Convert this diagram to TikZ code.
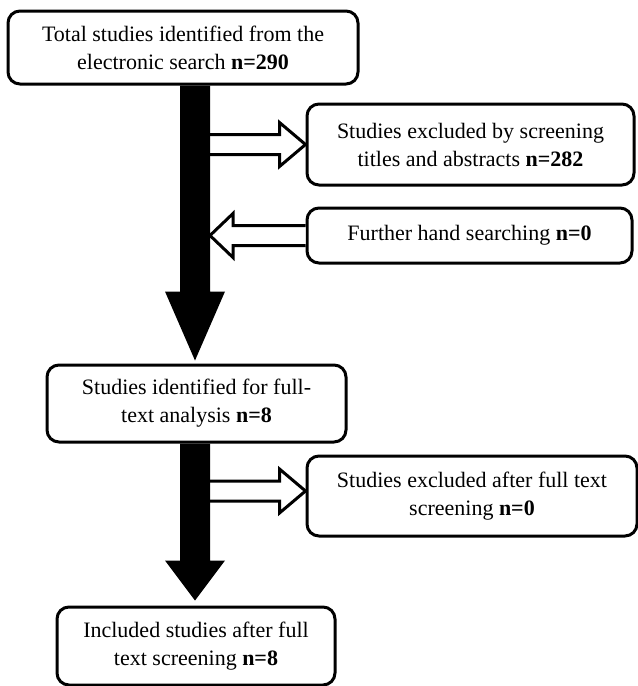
\documentclass[tikz,border=0pt]{standalone}
\usepackage{fontspec}
\setmainfont{Liberation Serif}
\usetikzlibrary{calc}
\usetikzlibrary{positioning}
\tikzset{flowbox/.style={draw, line width=2.25pt, rounded corners=9pt, align=center, inner sep=0pt, font=\fontsize{16.5}{21}\selectfont},
		hollowarrow/.style={draw, fill=white, line width=2.25pt, line join=miter}}
\newcommand{\fatarrow}[4]{\fill ($(#1.south -| spine)+(-15,0)$) -- ($(#2.north -| spine)+(-15,#4+#3)$)
					-- ($(#2.north -| spine)+(-30,#4+#3)$) -- ($(#2.north -| spine)+(0,#4)$)
					-- ($(#2.north -| spine)+(30,#4+#3)$) -- ($(#2.north -| spine)+(15,#4+#3)$)
					-- ($(#1.south -| spine)+(15,0)$) -- cycle;}
\newcommand{\openarrow}[3]{\draw[hollowarrow] ($(#1)+(0,10)$) -- ($(#2)+(#3,10)$) -- ($(#2)+(#3,22)$) -- (#2)
					-- ($(#2)+(#3,-22)$) -- ($(#2)+(#3,-10)$) -- ($(#1)+(0,-10)$);}

\begin{document}
\begin{tikzpicture}[x=0.75pt, y=0.75pt]

					\useasboundingbox (0,0) rectangle (638,-686);

					\coordinate (spine) at (195,0);

					\node[flowbox, minimum width=262.5pt, minimum height=54.75pt] (total) at (183,-47.5)
						{Total studies identified from the\\ electronic search \textbf{n=290}};

					\node[flowbox, minimum width=245.25pt, minimum height=60.75pt] (screened) at (470.5,-144.5)
						{Studies excluded by screening\\ titles and abstracts \textbf{n=282}};

					\node[flowbox, minimum width=243.75pt, minimum height=41.25pt] (hand) at (469.5,-235.5)
						{Further hand searching \textbf{n=0}};

					\node[flowbox, minimum width=224.25pt, minimum height=57.75pt] (full) at (196.5,-403.5)
						{Studies identified for full-\\ text analysis \textbf{n=8}};

					\node[flowbox, minimum width=247.5pt, minimum height=60pt] (fullout) at (472,-496)
						{Studies excluded after full text\\ screening \textbf{n=0}};

					\node[flowbox, minimum width=208.5pt, minimum height=58.5pt] (included) at (196,-646)
						{Included studies after full\\ text screening \textbf{n=8}};

					\coordinate (s1) at ($(screened.west -| spine)+(15,0)$);
					\coordinate (s2) at ($(hand.west -| spine)+(15,0)$);
					\coordinate (s3tip) at ($(fullout.west)+(0,5)$);
					\coordinate (s3) at ($(s3tip -| spine)+(15,0)$);

					\openarrow{s1}{screened.west}{-26}
					\openarrow{hand.west}{s2}{23}
					\openarrow{s3}{s3tip}{-26}

					\fatarrow{total}{full}{69}{3}
					\fatarrow{full}{included}{40}{5}

\end{tikzpicture}
\end{document}
